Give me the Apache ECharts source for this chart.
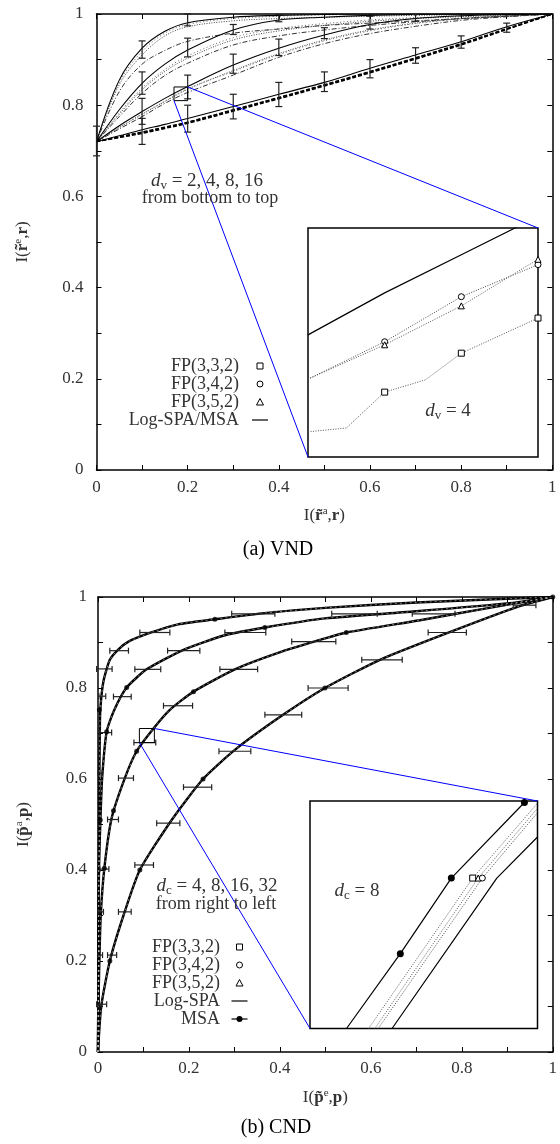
<!DOCTYPE html>
<html><head><meta charset="utf-8">
<script src="https://cdn.jsdelivr.net/npm/echarts@6/dist/echarts.min.js"></script>
<style>html,body{margin:0;padding:0;background:#fff}#c{width:560px;height:1144px}</style>
</head><body><div id="c"></div>
<script>
// ================= (a) VND data =================
const vndX = [0, 0.05, 0.1, 0.15, 0.2, 0.3, 0.4, 0.5, 0.6, 0.7, 0.8, 0.9, 1];
// Log-SPA / MSA (solid)
const vndSpa2  = [0.72,0.733,0.746,0.758,0.771,0.797,0.824,0.85,0.881,0.91,0.939,0.972,1];
const vndSpa4  = [0.72,0.755,0.786,0.815,0.841,0.888,0.925,0.954,0.977,0.99,0.996,0.999,1];
const vndSpa8  = [0.72,0.79,0.848,0.89,0.921,0.965,0.987,0.993,0.997,0.999,1,1,1];
const vndSpa16 = [0.72,0.855,0.925,0.962,0.981,0.993,0.997,0.999,1,1,1,1,1];
// FP decoders
const vndFp332_2 = [0.72,0.729,0.738,0.749,0.76,0.787,0.814,0.842,0.871,0.901,0.932,0.966,1];
const vndFp342_2 = [0.72,0.73,0.74,0.751,0.762,0.789,0.816,0.844,0.873,0.903,0.934,0.967,1];
const vndFp352_2 = [0.72,0.731,0.741,0.752,0.763,0.79,0.817,0.845,0.874,0.904,0.935,0.968,1];
const vndFp332_4 = [0.72,0.748,0.775,0.804,0.828,0.866,0.905,0.935,0.957,0.973,0.986,0.994,1];
const vndFp342_4 = [0.72,0.751,0.78,0.808,0.835,0.876,0.913,0.943,0.965,0.98,0.99,0.996,1];
const vndFp352_4 = [0.72,0.751,0.781,0.809,0.836,0.874,0.911,0.941,0.963,0.979,0.989,0.995,1];
const vndFp332_8 = [0.72,0.775,0.826,0.865,0.892,0.932,0.952,0.965,0.975,0.983,0.99,0.995,1];
const vndFp342_8 = [0.72,0.78,0.834,0.874,0.903,0.943,0.963,0.975,0.984,0.99,0.994,0.997,1];
const vndFp352_8 = [0.72,0.783,0.838,0.878,0.908,0.948,0.968,0.979,0.987,0.992,0.995,0.998,1];
const vndFp332_16 = [0.72,0.83,0.89,0.92,0.94,0.958,0.967,0.975,0.98,0.985,0.99,0.995,1];
const vndFp342_16 = [0.72,0.845,0.91,0.952,0.972,0.985,0.99,0.993,0.995,0.997,0.998,0.999,1];
const vndFp352_16 = [0.72,0.85,0.918,0.958,0.977,0.99,0.995,0.998,0.999,1,1,1,1];
// error bars [x, low, high]
const vndErr0  = [[0,0.689,0.754]];
const vndErr2  = [[0.1,0.714,0.771],[0.2,0.741,0.80],[0.3,0.77,0.824],[0.4,0.797,0.85],[0.5,0.83,0.873],[0.6,0.86,0.90],[0.7,0.892,0.926],[0.8,0.925,0.952],[0.9,0.96,0.98]];
const vndErr4  = [[0.1,0.758,0.815],[0.2,0.814,0.866],[0.3,0.87,0.912],[0.4,0.909,0.945],[0.5,0.946,0.97],[0.6,0.967,0.995],[0.7,0.984,0.999]];
const vndErr8  = [[0.1,0.824,0.873],[0.2,0.906,0.947],[0.3,0.955,0.977],[0.4,0.983,0.999]];
const vndErr16 = [[0.1,0.903,0.941],[0.2,0.974,1.0]];
// inset (d_v = 4)
const vndInX = [0.17, 0.20];
const vndInY = [0.81, 0.84];
const vndInSpa   = [[0.17,0.826],[0.18,0.8315],[0.19,0.8365],[0.2,0.8415]];
const vndInFp332 = [[0.17,0.8133],[0.175,0.8138],[0.18,0.8185],[0.1853,0.8201],[0.19,0.8236],[0.2,0.8282]];
const vndInFp342 = [[0.17,0.8202],[0.18,0.8251],[0.19,0.831],[0.2,0.8352]];
const vndInFp352 = [[0.17,0.8202],[0.18,0.8247],[0.19,0.8298],[0.2,0.8359]];
const vndInMarkX = [0.18, 0.19, 0.2];

// ================= (b) CND data =================
const cnd4  = [[0,0],[0.007,0.1],[0.026,0.2],[0.056,0.3],[0.092,0.4],[0.162,0.51],[0.231,0.6],[0.301,0.664],[0.407,0.741],[0.499,0.8],[0.62,0.862],[0.766,0.92],[0.927,0.98],[1,1]];
const cnd8  = [[0,0],[0.001,0.1],[0.003,0.2],[0.006,0.3],[0.014,0.404],[0.03,0.514],[0.059,0.602],[0.085,0.661],[0.122,0.711],[0.158,0.752],[0.21,0.792],[0.301,0.841],[0.404,0.88],[0.499,0.909],[0.546,0.922],[0.708,0.949],[0.854,0.975],[1,1]];
const cnd16 = [[0,0],[0.001,0.2],[0.002,0.4],[0.005,0.5],[0.009,0.6],[0.019,0.704],[0.035,0.75],[0.063,0.801],[0.107,0.841],[0.188,0.884],[0.279,0.916],[0.367,0.933],[0.499,0.953],[0.693,0.968],[0.912,0.987],[1,1]];
const cnd32 = [[0,0],[0.001,0.2],[0.002,0.4],[0.003,0.6],[0.004,0.7],[0.005,0.752],[0.012,0.815],[0.026,0.862],[0.045,0.885],[0.067,0.902],[0.114,0.921],[0.176,0.94],[0.257,0.951],[0.36,0.964],[0.499,0.976],[0.7,0.988],[1,1]];
// MSA dots
const cndDots4  = [[0.026,0.2],[0.092,0.4],[0.231,0.6],[0.499,0.8],[1,1]];
const cndDots8  = [[0.014,0.404],[0.034,0.53],[0.085,0.661],[0.21,0.792],[0.546,0.922]];
const cndDots16 = [[0.005,0.51],[0.019,0.704],[0.063,0.801],[0.367,0.933]];
const cndDots32 = [[0.003,0.752],[0.257,0.951]];
// horizontal error bars [y, low, high]
const cndErr4  = [[0.105,-0.003,0.019],[0.213,0.021,0.041],[0.308,0.045,0.073],[0.411,0.081,0.122],[0.503,0.129,0.18],[0.582,0.188,0.25],[0.661,0.266,0.336],[0.741,0.367,0.448],[0.80,0.462,0.55],[0.862,0.58,0.669],[0.922,0.726,0.81],[0.982,0.913,0.963]];
const cndErr8  = [[0.102,0.0,0.008],[0.213,0.0,0.01],[0.308,0.0,0.012],[0.402,0.004,0.024],[0.511,0.021,0.045],[0.602,0.045,0.078],[0.68,0.079,0.127],[0.761,0.144,0.208],[0.841,0.268,0.351],[0.902,0.426,0.523],[0.963,0.691,0.785]];
const cndErr16 = [[0.613,0.0,0.009],[0.702,0.003,0.03],[0.781,0.034,0.073],[0.841,0.081,0.138],[0.882,0.153,0.224],[0.922,0.279,0.369],[0.963,0.514,0.614]];
const cndErr32 = [[0.782,0.002,0.017],[0.842,-0.003,0.031],[0.882,0.026,0.067],[0.922,0.092,0.158],[0.963,0.294,0.389]];
// inset (d_c = 8)
const cndInX = [0.091, 0.124];
const cndInY = [0.68, 0.711];
const cndInMsa   = [[0.0963,0.68],[0.1041,0.6902],[0.1115,0.7005],[0.1221,0.7108]];
const cndInSpa   = [[0.1029,0.68],[0.1181,0.7005],[0.124,0.7061]];
const cndInFp332 = [[0.0995,0.68],[0.1146,0.7005],[0.124,0.7107]];
const cndInFp352 = [[0.1004,0.68],[0.1154,0.7005],[0.124,0.71]];
const cndInFp342 = [[0.1009,0.68],[0.116,0.7005],[0.124,0.7094]];

// ================= chart =================
const FONT = "'Liberation Serif','DejaVu Serif',serif";
const TXT = '#333';
const chart = echarts.init(document.getElementById('c'), null, {renderer: 'canvas'});

function tickFmt(v) {
  const k = Math.round(v * 10);
  return k % 2 ? '' : String(+(k / 10).toFixed(1));
}
function mainAxis(gridIndex, pos, labels, margin, extra) {
  return Object.assign({
    type: 'value', gridIndex, position: pos, min: 0, max: 1, interval: 0.1,
    axisLine: {show: true, onZero: false, lineStyle: {color: '#000', width: 1.5}},
    axisTick: {show: true, inside: true, length: 5, lineStyle: {color: '#000', width: 1}},
    splitLine: {show: false},
    axisLabel: {show: labels, formatter: tickFmt, margin, fontFamily: FONT, fontSize: 17, color: TXT, hideOverlap: false}
  }, extra || {});
}
function insetAxis(gridIndex, range) {
  return {type: 'value', gridIndex, min: range[0], max: range[1], show: false, splitLine: {show: false}};
}
const nameRich = {
  n: {fontFamily: FONT, fontSize: 17, color: TXT},
  b: {fontFamily: FONT, fontSize: 17, color: TXT, fontWeight: 'bold'},
  sup: {fontFamily: FONT, fontSize: 11, color: TXT, padding: [0, 0, 9, 0]}
};

const xAxis = [
  mainAxis(0, 'bottom', true, 9, {name: '{n|I(}{b|r\u0303}{sup|a}{n|,}{b|r}{n|)}', nameLocation: 'middle', nameGap: 36, nameTextStyle: {rich: nameRich}}),
  mainAxis(0, 'top', false, 8),
  insetAxis(1, vndInX),
  mainAxis(2, 'bottom', true, 8, {name: '{n|I(}{b|p\u0303}{sup|e}{n|,}{b|p}{n|)}', nameLocation: 'middle', nameGap: 36, nameTextStyle: {rich: nameRich}}),
  mainAxis(2, 'top', false, 8),
  insetAxis(3, cndInX)
];
const yAxis = [
  mainAxis(0, 'left', true, 13, {name: '{n|I(}{b|r\u0303}{sup|e}{n|,}{b|r}{n|)}', nameLocation: 'middle', nameGap: 64, nameRotate: 90, nameTextStyle: {rich: nameRich}}),
  mainAxis(0, 'right', false, 8),
  insetAxis(1, vndInY),
  mainAxis(2, 'left', true, 11, {name: '{n|I(}{b|p\u0303}{sup|a}{n|,}{b|p}{n|)}', nameLocation: 'middle', nameGap: 64, nameRotate: 90, nameTextStyle: {rich: nameRich}}),
  mainAxis(2, 'right', false, 8),
  insetAxis(3, cndInY)
];
const grid = [
  {left: 96.5, top: 14, width: 455.8, height: 456},
  {left: 308, top: 228, width: 230, height: 229, show: true, backgroundColor: '#fff', borderColor: '#000', borderWidth: 1.5, z: 5},
  {left: 98, top: 597, width: 455.5, height: 455},
  {left: 310, top: 801, width: 227.5, height: 227.5, show: true, backgroundColor: '#fff', borderColor: '#000', borderWidth: 1.5, z: 5}
];

const series = [];
const xy = (xs, ys) => xs.map((x, i) => [x, ys[i]]);
function addLine(xi, yi, data, ls, extra) {
  series.push(Object.assign({
    type: 'line', xAxisIndex: xi, yAxisIndex: yi, data, symbol: 'none', silent: true,
    lineStyle: ls, z: 3, animation: false, clip: true
  }, extra || {}));
}
function vErr(params, api) {
  const x = api.value(0), a = api.coord([x, api.value(1)]), b = api.coord([x, api.value(2)]);
  const c = 3.5, st = {stroke: '#222', lineWidth: 1.2};
  return {type: 'group', children: [
    {type: 'line', shape: {x1: a[0], y1: a[1], x2: b[0], y2: b[1]}, style: st},
    {type: 'line', shape: {x1: a[0] - c, y1: a[1], x2: a[0] + c, y2: a[1]}, style: st},
    {type: 'line', shape: {x1: b[0] - c, y1: b[1], x2: b[0] + c, y2: b[1]}, style: st}
  ]};
}
function hErr(params, api) {
  const y = api.value(0), a = api.coord([api.value(1), y]), b = api.coord([api.value(2), y]);
  const c = 3, st = {stroke: '#222', lineWidth: 1.2};
  return {type: 'group', children: [
    {type: 'line', shape: {x1: a[0], y1: a[1], x2: b[0], y2: b[1]}, style: st},
    {type: 'line', shape: {x1: a[0], y1: a[1] - c, x2: a[0], y2: a[1] + c}, style: st},
    {type: 'line', shape: {x1: b[0], y1: b[1] - c, x2: b[0], y2: b[1] + c}, style: st}
  ]};
}

// ---- (a) main curves ----
const fpStyles = [
  {color: '#333', width: 1, type: [5, 2, 1, 2]},
  {color: '#444', width: 1, type: [1, 1.5]},
  {color: '#666', width: 1, type: [1, 2.5]}
];
const vndFpGroups = [
  [vndFp332_2, vndFp342_2, vndFp352_2],
  [vndFp332_4, vndFp342_4, vndFp352_4],
  [vndFp332_8, vndFp342_8, vndFp352_8],
  [vndFp332_16, vndFp342_16, vndFp352_16]
];
vndFpGroups.forEach((g, gi) => g.forEach((ys, k) => {
  const ls = gi === 0 ? {color: '#000', width: 1.4, type: [4, 2]} : fpStyles[k];
  addLine(0, 0, xy(vndX, ys), ls, {smooth: 0.35});
}));
[vndSpa2, vndSpa4, vndSpa8, vndSpa16].forEach(ys =>
  addLine(0, 0, xy(vndX, ys), {color: '#000', width: 1.1}, {smooth: 0.35, z: 4}));
[vndErr0, vndErr2, vndErr4, vndErr8, vndErr16].forEach(d =>
  series.push({type: 'custom', xAxisIndex: 0, yAxisIndex: 0, data: d, renderItem: vErr, encode: {x: 0, y: [1, 2]}, silent: true, z: 5, animation: false}));
// zoom square
addLine(0, 0, [[vndInX[0], vndInY[0]], [vndInX[1], vndInY[0]], [vndInX[1], vndInY[1]], [vndInX[0], vndInY[1]], [vndInX[0], vndInY[0]]], {color: '#000', width: 1}, {z: 6});

// ---- (a) inset ----
const markerStyle = {color: '#fff', borderColor: '#000', borderWidth: 1};
const vndMark = shape => (v => vndInMarkX.some(m => Math.abs(m - v[0]) < 1e-6) ? shape : 'none');
addLine(2, 2, vndInSpa, {color: '#000', width: 1.2}, {z: 6});
addLine(2, 2, vndInFp332, {color: '#555', width: 1, type: [1, 1.5]}, {z: 6, symbol: vndMark('rect'), symbolSize: 6, showSymbol: true, itemStyle: markerStyle});
addLine(2, 2, vndInFp342, {color: '#444', width: 1, type: [1, 1.5]}, {z: 6, symbol: vndMark('circle'), symbolSize: 6, showSymbol: true, itemStyle: markerStyle});
addLine(2, 2, vndInFp352, {color: '#555', width: 1, type: [1, 1.5]}, {z: 6, symbol: vndMark('triangle'), symbolSize: 6, showSymbol: true, itemStyle: markerStyle});

// ---- (b) main curves ----
[cnd4, cnd8, cnd16, cnd32].forEach(d => {
  addLine(3, 3, d, {color: '#000', width: 2.4}, {smooth: 0.2});
  addLine(3, 3, d, {color: '#fff', width: 0.6, opacity: 0.8, type: [2, 3]}, {smooth: 0.2, z: 4});
});
[cndDots4, cndDots8, cndDots16, cndDots32].forEach(d =>
  series.push({type: 'scatter', xAxisIndex: 3, yAxisIndex: 3, data: d, symbol: 'circle', symbolSize: 5, itemStyle: {color: '#000'}, silent: true, z: 5, animation: false}));
[cndErr4, cndErr8, cndErr16, cndErr32].forEach(d =>
  series.push({type: 'custom', xAxisIndex: 3, yAxisIndex: 3, data: d, renderItem: hErr, encode: {y: 0, x: [1, 2]}, silent: true, z: 5, animation: false}));
addLine(3, 3, [[cndInX[0], cndInY[0]], [cndInX[1], cndInY[0]], [cndInX[1], cndInY[1]], [cndInX[0], cndInY[1]], [cndInX[0], cndInY[0]]], {color: '#000', width: 1}, {z: 6});

// ---- (b) inset ----
const midMark = shape => ((v, p) => p.dataIndex === 1 ? shape : 'none');
addLine(5, 5, cndInMsa, {color: '#000', width: 1.2}, {z: 6, symbol: (v, p) => p.dataIndex > 0 ? 'circle' : 'none', symbolSize: 7, showSymbol: true, itemStyle: {color: '#000'}});
addLine(5, 5, cndInSpa, {color: '#000', width: 1.2}, {z: 6});
addLine(5, 5, cndInFp332, {color: '#555', width: 1, type: [1, 1.5]}, {z: 6, symbol: midMark('rect'), symbolSize: 6, showSymbol: true, itemStyle: markerStyle});
addLine(5, 5, cndInFp352, {color: '#555', width: 1, type: [1, 1.5]}, {z: 6, symbol: midMark('triangle'), symbolSize: 6, showSymbol: true, itemStyle: markerStyle});
addLine(5, 5, cndInFp342, {color: '#444', width: 1, type: [1, 1.5]}, {z: 6, symbol: midMark('circle'), symbolSize: 6, showSymbol: true, itemStyle: markerStyle});

chart.setOption({animation: false, backgroundColor: '#fff', grid, xAxis, yAxis, series});

// ================= annotations / legends =================
const mathRich = {
  i: {fontFamily: FONT, fontSize: 19, fontStyle: 'italic', fill: TXT},
  s: {fontFamily: FONT, fontSize: 13, fill: TXT, padding: [9, 0, 0, 0]},
  n: {fontFamily: FONT, fontSize: 19, fill: TXT}
};
function txt(x, y, text, opts) {
  return Object.assign({type: 'text', x, y, z: 20, silent: true,
    style: Object.assign({text, fill: TXT, font: '18px ' + FONT, align: 'center', verticalAlign: 'middle', rich: mathRich}, opts || {})});
}
const g = [];
// captions
g.push(txt(278, 550, '(a) VND', {font: '20px ' + FONT, fill: '#000'}));
g.push(txt(276, 1128, '(b) CND', {font: '20px ' + FONT, fill: '#000'}));
// annotations
g.push(txt(207, 181, '{i|d}{s|v}{n| = 2, 4, 8, 16}'));
g.push(txt(210, 198, 'from bottom to top'));
g.push(txt(448, 411, '{i|d}{s|v}{n| = 4}'));
g.push(txt(217, 886, '{i|d}{s|c}{n| = 4, 8, 16, 32}'));
g.push(txt(216, 904, 'from right to left'));
g.push(txt(357, 891, '{i|d}{s|c}{n| = 8}'));
// legend helper
function legendMarker(cx, cy, kind) {
  const st = {stroke: '#000', fill: '#fff', lineWidth: 1};
  if (kind === 'rect') g.push({type: 'rect', z: 20, silent: true, shape: {x: cx - 3, y: cy - 3, width: 6, height: 6}, style: st});
  if (kind === 'circle') g.push({type: 'circle', z: 20, silent: true, shape: {cx, cy, r: 3}, style: st});
  if (kind === 'triangle') g.push({type: 'polygon', z: 20, silent: true, shape: {points: [[cx, cy - 3.5], [cx + 3.5, cy + 3], [cx - 3.5, cy + 3]]}, style: st});
  if (kind === 'line' || kind === 'dotline') g.push({type: 'line', z: 20, silent: true, shape: {x1: cx - 8, y1: cy, x2: cx + 8, y2: cy}, style: {stroke: '#000', lineWidth: 1.2}});
  if (kind === 'dotline') g.push({type: 'circle', z: 21, silent: true, shape: {cx, cy, r: 3}, style: {fill: '#000'}});
}
const vndLegend = [['FP(3,3,2)', 'rect'], ['FP(3,4,2)', 'circle'], ['FP(3,5,2)', 'triangle'], ['Log-SPA/MSA', 'line']];
vndLegend.forEach((it, i) => {
  const y = 366 + i * 18;
  g.push(txt(239, y, it[0], {align: 'right'}));
  legendMarker(260, y, it[1]);
});
const cndLegend = [['FP(3,3,2)', 'rect'], ['FP(3,4,2)', 'circle'], ['FP(3,5,2)', 'triangle'], ['Log-SPA', 'line'], ['MSA', 'dotline']];
cndLegend.forEach((it, i) => {
  const y = 947 + i * 18;
  g.push(txt(220, y, it[0], {align: 'right'}));
  legendMarker(239.5, y, it[1]);
});
// blue connector lines (main zoom box corners -> inset box corners)
function connect(mainIdx, inIdx, rx, ry) {
  [[rx[1], ry[1]], [rx[0], ry[0]]].forEach(pt => {
    const a = chart.convertToPixel({xAxisIndex: mainIdx, yAxisIndex: mainIdx}, pt);
    const b = chart.convertToPixel({xAxisIndex: inIdx, yAxisIndex: inIdx}, pt);
    g.push({type: 'line', z: 15, silent: true, shape: {x1: a[0], y1: a[1], x2: b[0], y2: b[1]}, style: {stroke: '#0000ff', lineWidth: 1}});
  });
}
connect(0, 2, vndInX, vndInY);
connect(3, 5, cndInX, cndInY);
chart.setOption({graphic: g});
</script></body></html>
